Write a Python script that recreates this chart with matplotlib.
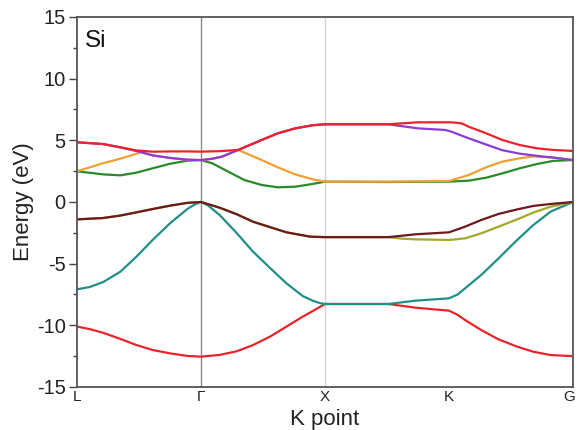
import matplotlib
matplotlib.use("Agg")
import matplotlib.pyplot as plt
import matplotlib.transforms as mtransforms
from matplotlib.ticker import MultipleLocator

plt.rcParams['font.family'] = ['Liberation Sans', 'DejaVu Sans']
plt.rcParams['axes.unicode_minus'] = False

# high-symmetry points along the path
kpoint_pos = [0, 1, 2, 3, 4]
kpoint_labels = ['L', 'Γ', 'X', 'K', 'G']

# valence bands (eV)
red_low_k = [0, 0.1, 0.21, 0.35, 0.48, 0.61, 0.75, 0.89, 1,
             1.15, 1.29, 1.42, 1.56, 1.69, 1.82, 1.9, 2,
             2.51, 2.73, 3.0,
             3.07, 3.13, 3.26, 3.40, 3.55, 3.68, 3.82, 4]
red_low_e = [-10.1, -10.3, -10.6, -11.1, -11.6, -12.0, -12.27, -12.48, -12.54,
             -12.4, -12.1, -11.6, -10.9, -10.1, -9.3, -8.85, -8.27,
             -8.27, -8.57, -8.81,
             -9.15, -9.57, -10.38, -11.14, -11.73, -12.14, -12.41, -12.5]

teal_k = [0, 0.1, 0.21, 0.35, 0.48, 0.61, 0.75, 0.89, 0.95, 1,
          1.06, 1.15, 1.29, 1.42, 1.56, 1.69, 1.82, 1.9, 1.96, 2,
          2.51, 2.73, 3.0,
          3.07, 3.13, 3.26, 3.40, 3.55, 3.68, 3.82, 4]
teal_e = [-7.08, -6.9, -6.5, -5.65, -4.43, -3.08, -1.73, -0.57, -0.2, 0,
          -0.3, -1.05, -2.54, -4.03, -5.38, -6.6, -7.62, -8.0, -8.2, -8.27,
          -8.27, -8.0, -7.81,
          -7.5, -7.0, -5.92, -4.57, -3.08, -1.87, -0.78, 0]

olive_k = [0, 0.21, 0.35, 0.48, 0.61, 0.75, 0.89, 1,
           1.15, 1.29, 1.42, 1.56, 1.69, 1.88, 2,
           2.51, 2.62, 2.73, 3.0,
           3.13, 3.26, 3.40, 3.55, 3.68, 3.82, 4]
olive_e = [-1.41, -1.3, -1.1, -0.84, -0.57, -0.3, -0.07, 0,
           -0.46, -1.0, -1.6, -2.05, -2.46, -2.81, -2.85,
           -2.85, -2.97, -3.03, -3.08,
           -2.95, -2.54, -2.0, -1.41, -0.86, -0.38, 0]

brown_k = [0, 0.21, 0.35, 0.48, 0.61, 0.75, 0.89, 1,
           1.15, 1.29, 1.42, 1.56, 1.69, 1.88, 2,
           2.51, 2.73, 3.0,
           3.13, 3.26, 3.40, 3.55, 3.68, 3.82, 4]
brown_e = [-1.41, -1.3, -1.1, -0.84, -0.57, -0.3, -0.07, 0,
           -0.46, -1.0, -1.6, -2.05, -2.46, -2.81, -2.85,
           -2.85, -2.62, -2.46,
           -2.0, -1.46, -0.97, -0.6, -0.32, -0.16, 0]

# conduction bands (eV)
green_k = [0, 0.21, 0.35, 0.48, 0.61, 0.75, 0.89, 1,
           1.09, 1.22, 1.35, 1.49, 1.62, 1.76, 1.90, 2,
           2.51, 3.0,
           3.16, 3.30, 3.43, 3.57, 3.71, 3.84, 4]
green_e = [2.49, 2.24, 2.16, 2.38, 2.73, 3.1, 3.35, 3.4,
           3.14, 2.46, 1.78, 1.38, 1.19, 1.24, 1.46, 1.65,
           1.62, 1.65,
           1.73, 1.97, 2.32, 2.73, 3.08, 3.33, 3.4]

orange_k = [0, 0.21, 0.35, 0.52, 0.61, 0.75, 0.89, 1,
            1.09, 1.17, 1.30, 1.49, 1.62, 1.76, 1.90, 2,
            2.51, 3.0,
            3.16, 3.30, 3.43, 3.57, 3.68, 3.84, 4]
orange_e = [2.49, 3.14, 3.51, 4.03, 3.78, 3.57, 3.43, 3.4,
            3.5, 3.68, 4.22, 3.4, 2.81, 2.24, 1.84, 1.65,
            1.65, 1.7,
            2.19, 2.81, 3.27, 3.54, 3.7, 3.6, 3.4]

purple_k = [0, 0.21, 0.35, 0.52, 0.61, 0.75, 0.89, 1,
            1.09, 1.17, 1.30, 1.49, 1.62, 1.76, 1.90, 2,
            2.51, 2.75, 2.97, 3.02,
            3.16, 3.30, 3.43, 3.57, 3.71, 3.84, 4]
purple_e = [4.84, 4.7, 4.43, 4.03, 3.78, 3.57, 3.43, 3.4,
            3.5, 3.68, 4.22, 5.03, 5.57, 5.97, 6.22, 6.3,
            6.3, 5.97, 5.84, 5.7,
            5.16, 4.66, 4.2, 3.92, 3.74, 3.6, 3.4]

red_k = [0, 0.21, 0.35, 0.48, 0.61, 0.75, 0.89, 1,
         1.15, 1.30, 1.49, 1.62, 1.76, 1.90, 2,
         2.51, 2.75, 3.02, 3.10,
         3.16, 3.30, 3.43, 3.57, 3.71, 3.84, 4]
red_e = [4.84, 4.7, 4.43, 4.18, 4.08, 4.1, 4.1, 4.08,
         4.12, 4.22, 5.03, 5.57, 5.97, 6.22, 6.3,
         6.3, 6.46, 6.46, 6.38,
         6.1, 5.57, 5.03, 4.62, 4.35, 4.22, 4.14]

bands = [
    (red_low_k, red_low_e, '#e8242a'),
    (teal_k, teal_e, '#1f8f8a'),
    (olive_k, olive_e, '#a3a82a'),
    (brown_k, brown_e, '#6b1a1e'),
    (green_k, green_e, '#2a8a2a'),
    (orange_k, orange_e, '#f0a030'),
    (purple_k, purple_e, '#8a3cd6'),
    (red_k, red_e, '#e8242a'),
]

fig = plt.figure(figsize=(5.77, 4.30), dpi=100)
ax = fig.add_axes([0.1334, 0.1, 0.8596, 0.8605])

ax.axvline(1, color='#8a8a8a', lw=1.0, zorder=1)
ax.axvline(2, color='#d5d5d5', lw=1.0, zorder=1)

for k, e, c in bands:
    ax.plot(k, e, color=c, lw=1.6, zorder=2, solid_joinstyle='round')

ax.set_xlim(0, 4)
ax.set_ylim(-15, 15)
ax.set_xticks(kpoint_pos)
ax.set_xticklabels(kpoint_labels, fontsize=11)
ax.tick_params(axis='x', length=0, pad=2, colors='#333333')
ax.yaxis.set_major_locator(MultipleLocator(5))
ax.yaxis.set_minor_locator(MultipleLocator(2.5))
ax.tick_params(axis='y', which='major', length=6, width=1, labelsize=14.5, pad=2, colors='#444444')
ax.tick_params(axis='y', which='minor', length=3, width=1, colors='#444444')
for lab in ax.get_yticklabels() + ax.get_xticklabels():
    lab.set_color('#222222')

# pull the last k-point label in so it stays on the canvas
last = ax.get_xticklabels()[-1]
last.set_transform(last.get_transform() + mtransforms.ScaledTranslation(-3 / 72, 0, fig.dpi_scale_trans))

for s in ax.spines.values():
    s.set_color('#555555')
    s.set_linewidth(1.3)

ax.set_ylabel('Energy (eV)', fontsize=16, color='#222222')
ax.yaxis.set_label_coords(-0.086, 0.5)
ax.set_xlabel('K point', fontsize=16, color='#222222', labelpad=4)
ax.text(0.015, 0.965, 'Si', transform=ax.transAxes, fontsize=17.5, va='top', ha='left', color='#111111')

fig.savefig('out.png', dpi=100)
